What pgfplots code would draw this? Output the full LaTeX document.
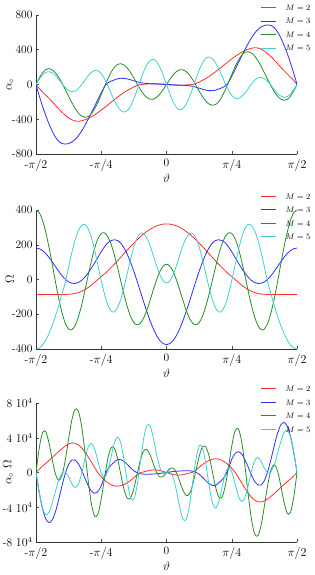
\documentclass[border=0pt]{standalone}
\usepackage{pgfplots}
\usepackage{pgfplotstable}
\pgfplotsset{compat=1.18}
\definecolor{cR}{RGB}{255,45,45}
\definecolor{cB}{RGB}{45,45,255}
\definecolor{cG}{RGB}{40,140,40}
\definecolor{cC}{RGB}{64,208,208}

\pgfplotstableread{
t a2 a3 a4 a5
-1 0 0 0 0
-0.975 -45 -130 73.5 59.5
-0.95 -85 -250 134.6 108.9
-0.925 -122 -358 173.1 140
-0.9 -160 -455 182.6 147.6
-0.875 -200 -540 167.8 133.3
-0.85 -242 -608 133 101.2
-0.825 -282 -655 80.8 56.8
-0.8 -320 -680 15.1 8.2
-0.775 -355 -686 -59 -36.2
-0.75 -385 -680 -136 -68.3
-0.725 -407 -662 -210 -82.6
-0.7 -420 -632 -275.8 -75.6
-0.675 -424 -590 -328 -47.3
-0.65 -417 -535 -362.8 -2.9
-0.625 -406 -470 -377.6 49.6
-0.6 -390 -400 -369.3 100.3
-0.575 -370 -325 -335 139.8
-0.55 -348 -248 -277.5 160.8
-0.525 -322 -170 -202.3 158
-0.5 -295 -95 -114.7 125.5
-0.475 -266 -25 -23.4 66.2
-0.45 -236 18 63.9 -11.5
-0.425 -205 38 139.5 -97.9
-0.4 -175 52 197 -181.6
-0.375 -146 66 231.3 -251.6
-0.35 -118 71 239.6 -298.7
-0.325 -92 70.5 224.3 -317
-0.3 -68 64 188.9 -300.5
-0.275 -48 54 137 -247.3
-0.25 -28 42 74.2 -164
-0.225 -12 31 7.1 -61.5
-0.2 -1 22 -57.1 47.3
-0.175 2.5 15 -111.7 148.2
-0.15 6.1 11 -150.7 228.4
-0.125 8.8 8 -170.2 277.5
-0.1 10 6 -168.4 289.2
-0.075 9.5 4.5 -146.9 261.3
-0.05 7.4 3 -108.5 197.3
-0.025 4 1.5 -57.6 106
0 0 0 0 0
0.025 -4 -1.5 57.6 -106
0.05 -7.4 -3 108.5 -197.3
0.075 -9.5 -4.5 146.9 -261.3
0.1 -10 -6 168.4 -289.2
0.125 -8.8 -8 170.2 -277.5
0.15 -6.1 -11 150.7 -228.4
0.175 -2.5 -15 111.7 -148.2
0.2 1 -22 57.1 -47.3
0.225 12 -31 -7.1 61.5
0.25 28 -42 -74.2 164
0.275 48 -54 -137 247.3
0.3 68 -64 -188.9 300.5
0.325 92 -70.5 -224.3 317
0.35 118 -71 -239.6 298.7
0.375 146 -66 -231.3 251.6
0.4 175 -52 -197 181.6
0.425 205 -38 -139.5 97.9
0.45 236 -18 -63.9 11.5
0.475 266 25 23.4 -66.2
0.5 295 95 114.7 -125.5
0.525 322 170 202.3 -158
0.55 348 248 277.5 -160.8
0.575 370 325 335 -139.8
0.6 390 400 369.3 -100.3
0.625 406 470 377.6 -49.6
0.65 417 535 362.8 2.9
0.675 424 590 328 47.3
0.7 420 632 275.8 75.6
0.725 407 662 210 82.6
0.75 385 680 136 68.3
0.775 355 686 59 36.2
0.8 320 680 -15.1 -8.2
0.825 282 655 -80.8 -56.8
0.85 242 608 -133 -101.2
0.875 200 540 -167.8 -133.3
0.9 160 455 -182.6 -147.6
0.925 122 358 -173.1 -140
0.95 85 250 -134.6 -108.9
0.975 45 130 -73.5 -59.5
1 0 0 0 0
}\tabalpha

\pgfplotstableread{
t o2 o3 o4 o5
-1 -86 181 400 -400
-0.975 -86 177.3 384.9 -394.2
-0.95 -86 166.4 341.1 -377
-0.925 -86 149.2 271.6 -348.6
-0.9 -86 126.8 184.3 -310.3
-0.875 -86 100.9 85.2 -262.9
-0.85 -86 73.5 -16.7 -207.9
-0.825 -86 46.4 -112.4 -146.8
-0.8 -86 21.8 -193.4 -81.4
-0.775 -86 1.3 -252.9 -13.6
-0.75 -85.2 -13.6 -285.5 72.3
-0.725 -83.5 -21.7 -288.8 157
-0.7 -80 -22.5 -264.3 228.7
-0.675 -75 -17 -215 281.8
-0.65 -68 -5 -145.6 312
-0.625 -58 14 -63.1 316.4
-0.6 -46 38 24.7 291.3
-0.575 -32 66 108.9 239.5
-0.55 -16 96 181.5 166.3
-0.525 1 128 235.3 80.9
-0.5 16.5 160 265 -6.4
-0.475 32.5 188 268.1 -85.2
-0.45 49.7 211.6 246.8 -145.7
-0.425 68.4 224.1 203.8 -180.9
-0.4 87.9 229 142.7 -186.5
-0.375 108.1 224.5 69.4 -162.6
-0.35 128.6 208.3 -9.8 -112.9
-0.325 149.3 181.5 -88.1 -43.4
-0.3 169.9 144.4 -157.5 36.7
-0.275 190.1 98.7 -212.5 117.2
-0.25 209.8 46.5 -248.1 187.9
-0.225 228.5 -10 -261 239.6
-0.2 246.2 -69.3 -251.2 265.6
-0.175 262.4 -128.8 -221.6 263.6
-0.15 277 -185.8 -175.1 237.6
-0.125 289.7 -238.9 -118.1 192.5
-0.1 300.4 -285.3 -57.3 135.9
-0.075 308.9 -323.4 0.1 77.2
-0.05 315 -351.7 46.8 26.5
-0.025 318.7 -369.1 77.4 -7.9
0 320 -375 88 -20
0.025 318.7 -369.1 77.4 -7.9
0.05 315 -351.7 46.8 26.5
0.075 308.9 -323.4 0.1 77.2
0.1 300.4 -285.3 -57.3 135.9
0.125 289.7 -238.9 -118.1 192.5
0.15 277 -185.8 -175.1 237.6
0.175 262.4 -128.8 -221.6 263.6
0.2 246.2 -69.3 -251.2 265.6
0.225 228.5 -10 -261 239.6
0.25 209.8 46.5 -248.1 187.9
0.275 190.1 98.7 -212.5 117.2
0.3 169.9 144.4 -157.5 36.7
0.325 149.3 181.5 -88.1 -43.4
0.35 128.6 208.3 -9.8 -112.9
0.375 108.1 224.5 69.4 -162.6
0.4 87.9 229 142.7 -186.5
0.425 68.4 224.1 203.8 -180.9
0.45 49.7 211.6 246.8 -145.7
0.475 32.5 188 268.1 -85.2
0.5 16.5 160 265 -6.4
0.525 1 128 235.3 80.9
0.55 -16 96 181.5 166.3
0.575 -32 66 108.9 239.5
0.6 -46 38 24.7 291.3
0.625 -58 14 -63.1 316.4
0.65 -68 -5 -145.6 312
0.675 -75 -17 -215 281.8
0.7 -80 -22.5 -264.3 228.7
0.725 -83.5 -21.7 -288.8 157
0.75 -85.2 -13.6 -285.5 72.3
0.775 -86 1.3 -252.9 -13.6
0.8 -86 21.8 -193.4 -81.4
0.825 -86 46.4 -112.4 -146.8
0.85 -86 73.5 -16.7 -207.9
0.875 -86 100.9 85.2 -262.9
0.9 -86 126.8 184.3 -310.3
0.925 -86 149.2 271.6 -348.6
0.95 -86 166.4 341.1 -377
0.975 -86 177.3 384.9 -394.2
1 -86 181 400 -400
}\tabomega

\pgfplotstableread{
t p2 p3 p4 p5
-1 0 0 0 0
-0.975 0.387 -2.305 2.829 -2.346
-0.95 0.731 -4.160 4.591 -4.106
-0.925 1.049 -5.341 4.701 -4.880
-0.9 1.376 -5.769 3.365 -4.580
-0.875 1.720 -5.449 1.430 -3.504
-0.85 2.081 -4.469 -0.222 -2.104
-0.825 2.425 -3.039 -0.908 -0.834
-0.8 2.752 -1.482 -0.292 -0.067
-0.775 3.053 -0.089 1.492 0.049
-0.75 3.280 0.925 3.883 -0.494
-0.725 3.398 1.437 6.065 -1.297
-0.7 3.360 1.422 7.289 -1.729
-0.675 3.180 1.003 7.052 -1.333
-0.65 2.836 0.268 5.282 -0.090
-0.625 2.355 -0.658 2.383 1.569
-0.6 1.794 -1.520 -0.912 2.922
-0.575 1.184 -2.145 -3.648 3.348
-0.55 0.557 -2.381 -5.037 2.674
-0.525 -0.032 -2.176 -4.760 1.278
-0.5 -0.487 -1.520 -3.040 -0.080
-0.475 -0.865 -0.470 -0.627 -0.564
-0.45 -1.173 0.381 1.577 0.168
-0.425 -1.402 0.852 2.843 1.771
-0.4 -1.538 1.191 2.811 3.387
-0.375 -1.578 1.482 1.605 4.091
-0.35 -1.517 1.479 -0.235 3.372
-0.325 -1.374 1.280 -1.976 1.376
-0.3 -1.155 0.924 -2.975 -1.103
-0.275 -0.912 0.533 -2.911 -2.898
-0.25 -0.587 0.195 -1.841 -3.082
-0.225 -0.274 -0.031 -0.185 -1.474
-0.2 -0.025 -0.152 1.434 1.256
-0.175 0.066 -0.193 2.475 3.907
-0.15 0.169 -0.204 2.639 5.427
-0.125 0.255 -0.191 2.010 5.342
-0.1 0.300 -0.171 0.965 3.930
-0.075 0.293 -0.146 -0.001 2.017
-0.05 0.233 -0.106 -0.508 0.523
-0.025 0.128 -0.055 -0.446 -0.084
0 0 0 0 0
0.025 -0.128 0.055 0.446 0.084
0.05 -0.233 0.106 0.508 -0.523
0.075 -0.293 0.146 0.001 -2.017
0.1 -0.300 0.171 -0.965 -3.930
0.125 -0.255 0.191 -2.010 -5.342
0.15 -0.169 0.204 -2.639 -5.427
0.175 -0.066 0.193 -2.475 -3.907
0.2 0.025 0.152 -1.434 -1.256
0.225 0.274 0.031 0.185 1.474
0.25 0.587 -0.195 1.841 3.082
0.275 0.912 -0.533 2.911 2.898
0.3 1.155 -0.924 2.975 1.103
0.325 1.374 -1.280 1.976 -1.376
0.35 1.517 -1.479 0.235 -3.372
0.375 1.578 -1.482 -1.605 -4.091
0.4 1.538 -1.191 -2.811 -3.387
0.425 1.402 -0.852 -2.843 -1.771
0.45 1.173 -0.381 -1.577 -0.168
0.475 0.865 0.470 0.627 0.564
0.5 0.487 1.520 3.040 0.080
0.525 0.032 2.176 4.760 -1.278
0.55 -0.557 2.381 5.037 -2.674
0.575 -1.184 2.145 3.648 -3.348
0.6 -1.794 1.520 0.912 -2.922
0.625 -2.355 0.658 -2.383 -1.569
0.65 -2.836 -0.268 -5.282 0.090
0.675 -3.180 -1.003 -7.052 1.333
0.7 -3.360 -1.422 -7.289 1.729
0.725 -3.398 -1.437 -6.065 1.297
0.75 -3.280 -0.925 -3.883 0.494
0.775 -3.053 0.089 -1.492 -0.049
0.8 -2.752 1.482 0.292 0.067
0.825 -2.425 3.039 0.908 0.834
0.85 -2.081 4.469 0.222 2.104
0.875 -1.720 5.449 -1.430 3.504
0.9 -1.376 5.769 -3.365 4.580
0.925 -1.049 5.341 -4.701 4.880
0.95 -0.731 4.160 -4.591 4.106
0.975 -0.387 2.305 -2.829 2.346
1 0 0 0 0
}\tabprod

\pgfplotsset{
  mystyle/.style={
    scale only axis, width=261pt, height=139pt,
    xmin=-1, xmax=1,
    axis x line*=bottom, axis y line*=left,
    axis line style={black!80, line width=0.6pt},
    xtick={-1,-0.5,0,0.5,1},
    xticklabels={-$\pi/2$,-$\pi/4$,0,$\pi/4$,$\pi/2$},
    tick style={black!70, line width=0.5pt},
    major tick length=3pt,
    tick align=inside,
    ticklabel style={font=\fontsize{11.5}{12}\selectfont},
    xticklabel style={yshift=-1.5pt},
    xlabel={$\vartheta$},
    xlabel style={font=\fontsize{12}{13}\selectfont, at={(axis description cs:0.5,-0.173)}, anchor=center},
    ylabel style={font=\fontsize{12}{13}\selectfont, at={(axis description cs:-0.1,0.5)}, anchor=center},
    legend cell align=left,
    legend image code/.code={\draw[##1] (0pt,0pt) -- (15pt,0pt); \path (24pt,0pt);},
    legend style={draw=none, fill=none, anchor=north east,
      font=\fontsize{8.5}{9}\selectfont, row sep=6.5pt,
      nodes={inner sep=0.5pt, text height=6pt, text depth=0pt}},
    every axis plot/.append style={line width=0.8pt, no markers, smooth},
  }
}

\begin{document}
\begin{tikzpicture}
\path[use as bounding box] (0,0) rectangle (315pt,575pt);

\begin{axis}[mystyle, at={(36pt,421pt)}, anchor=south west,
  ymin=-800, ymax=800, ytick={-800,-400,0,400,800},
  yticklabels={-800,-400,0,400,800},
  ylabel={$\alpha_\circ$},
  legend style={at={(axis description cs:1.065,1.095)}}]
\addplot[cR] table[x=t,y=a2]{\tabalpha};
\addplot[cB] table[x=t,y=a3]{\tabalpha};
\addplot[cG] table[x=t,y=a4]{\tabalpha};
\addplot[cC] table[x=t,y=a5]{\tabalpha};
\legend{$M=2$,$M=3$,$M=4$,$M=5$}
\end{axis}

\begin{axis}[mystyle, at={(36pt,226pt)}, anchor=south west,
  ymin=-400, ymax=400, ytick={-400,-200,0,200,400},
  yticklabels={-400,-200,0,200,400},
  ylabel={$\Omega$},
  legend style={at={(axis description cs:1.065,1.14)}}]
\addplot[cR] table[x=t,y=o2]{\tabomega};
\addplot[cB] table[x=t,y=o3]{\tabomega};
\addplot[cG] table[x=t,y=o4]{\tabomega};
\addplot[cC] table[x=t,y=o5]{\tabomega};
\legend{$M=2$,$M=3$,$M=4$,$M=5$}
\end{axis}

\begin{axis}[mystyle, at={(36pt,33pt)}, anchor=south west,
  ymin=-8, ymax=8, ytick={-8,-4,0,4,8},
  yticklabels={-8 $10^4$,-4 $10^4$,0,4 $10^4$,8 $10^4$},
  ylabel={$\alpha_\circ\;\Omega$},
  ylabel style={at={(axis description cs:-0.107,0.5)}},
  legend style={at={(axis description cs:1.065,1.145)}}]
\addplot[cR] table[x=t,y=p2]{\tabprod};
\addplot[cB] table[x=t,y=p3]{\tabprod};
\addplot[cG] table[x=t,y=p4]{\tabprod};
\addplot[cC] table[x=t,y=p5]{\tabprod};
\legend{$M=2$,$M=3$,$M=4$,$M=5$}
\end{axis}
\end{tikzpicture}
\end{document}
